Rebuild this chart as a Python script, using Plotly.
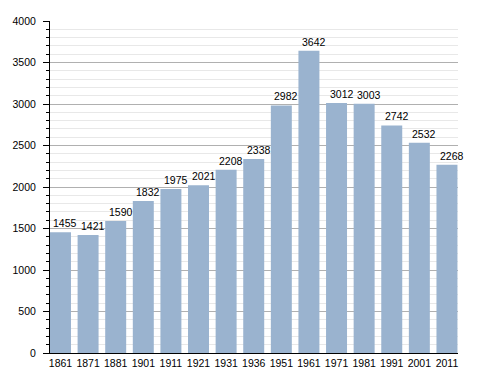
import plotly.graph_objects as go

years = ["1861", "1871", "1881", "1901", "1911", "1921", "1931", "1936",
         "1951", "1961", "1971", "1981", "1991", "2001", "2011"]
population = [1455, 1421, 1590, 1832, 1975, 2021, 2208, 2338,
              2982, 3642, 3012, 3003, 2742, 2532, 2268]

FONT = "Liberation Sans, Arial, sans-serif"
xs = list(range(len(years)))

fig = go.Figure()
fig.add_trace(go.Bar(
    x=xs,
    y=population,
    width=0.76,
    marker=dict(color="#9AB3CF", line=dict(width=0)),
    hoverinfo="x+y",
))

# value labels (slightly right-shifted, as in the original)
for xi, v in zip(xs, population):
    fig.add_annotation(
        x=xi, y=v, text=str(v), showarrow=False,
        xanchor="center", yanchor="bottom",
        xshift=5, yshift=1,
        font=dict(family=FONT, size=10.5, color="#000000"),
    )

# page body has an 8px default margin; figure sized/margined to compensate
fig.update_layout(
    width=480, height=365,
    margin=dict(l=42, r=30, t=13, b=20),
    paper_bgcolor="white", plot_bgcolor="white",
    showlegend=False,
    font=dict(family=FONT, size=10.5, color="#000000"),
    xaxis=dict(
        range=[-0.38, 14.4],
        tickmode="array",
        tickvals=xs,
        ticktext=years,
        showgrid=False,
        showline=True, linecolor="#000000", linewidth=1,
        ticks="", zeroline=False,
        tickfont=dict(size=10.5),
        automargin=False,
    ),
    yaxis=dict(
        range=[0, 4000],
        tickmode="linear", tick0=0, dtick=500,
        showgrid=True, gridcolor="#B0B0B0", gridwidth=1,
        showline=True, linecolor="#000000", linewidth=1,
        ticks="outside", ticklen=6, tickcolor="#000000",
        ticklabelstandoff=5,
        zeroline=False,
        tickfont=dict(size=10.5),
        automargin=False,
        minor=dict(dtick=100, showgrid=True, gridcolor="#E8E8E8",
                   ticks="outside", ticklen=3, tickcolor="#000000"),
    ),
)

fig.write_html("out.html")
